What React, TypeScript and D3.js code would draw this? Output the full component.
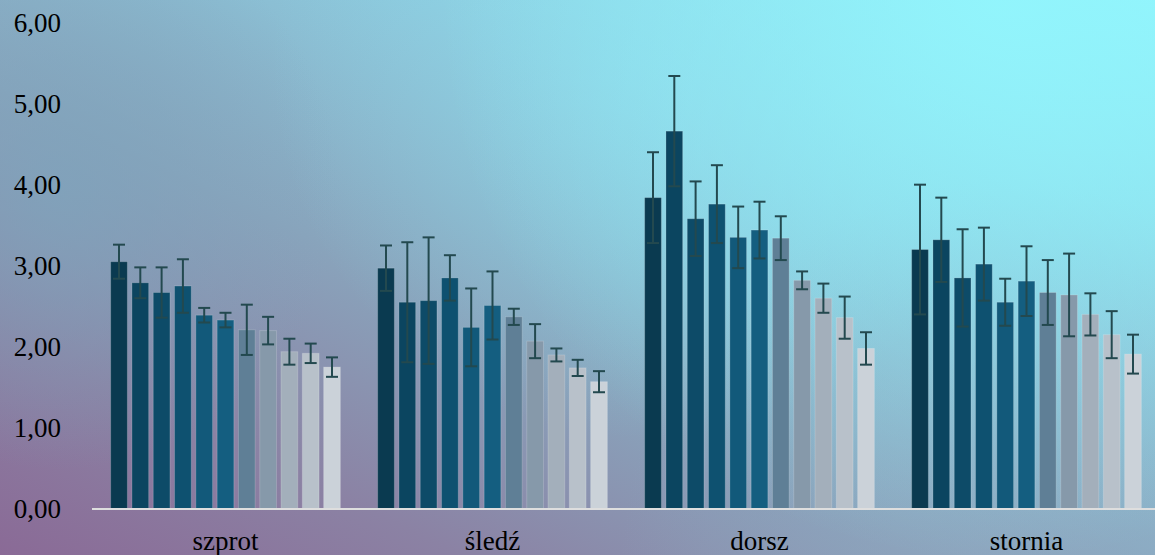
import React from "react";
import * as d3 from "d3";

const categories = ["szprot", "śledź", "dorsz", "stornia"];
const seriesColors = [
  "#0a3a50", "#0b4560", "#0d4b68", "#0e5170", "#12597a", "#145e80",
  "#5f7f96", "#8699aa", "#a3afbb", "#b8c1ca", "#cbd2d9",
];
const szprotValues = [3.05, 2.79, 2.67, 2.75, 2.39, 2.33, 2.21, 2.20, 1.94, 1.92, 1.75];
const szprotErrors = [0.21, 0.19, 0.31, 0.33, 0.09, 0.09, 0.31, 0.17, 0.16, 0.12, 0.12];
const sledzValues = [2.97, 2.55, 2.57, 2.85, 2.24, 2.51, 2.37, 2.07, 1.90, 1.74, 1.57];
const sledzErrors = [0.28, 0.74, 0.78, 0.28, 0.48, 0.42, 0.10, 0.21, 0.08, 0.10, 0.13];
const dorszValues = [3.84, 4.66, 3.58, 3.76, 3.35, 3.44, 3.34, 2.82, 2.60, 2.36, 1.98];
const dorszErrors = [0.56, 0.68, 0.46, 0.48, 0.38, 0.35, 0.27, 0.11, 0.18, 0.26, 0.20];
const storniaValues = [3.20, 3.32, 2.85, 3.02, 2.55, 2.81, 2.67, 2.64, 2.40, 2.15, 1.91];
const storniaErrors = [0.80, 0.52, 0.60, 0.45, 0.29, 0.43, 0.40, 0.51, 0.26, 0.29, 0.24];
const yTicks = [0, 1, 2, 3, 4, 5, 6];

const groupValues = [szprotValues, sledzValues, dorszValues, storniaValues];
const groupErrors = [szprotErrors, sledzErrors, dorszErrors, storniaErrors];

const W = 1155;
const H = 555;
const FONT = "'Liberation Serif', 'Times New Roman', serif";

export default function App() {
  const y = d3.scaleLinear().domain([0, 6]).range([509, 22.5]);
  const x0 = d3.scaleBand<string>().domain(categories).range([92, 1160]).padding(0);
  const seriesIdx = seriesColors.map((_, i) => String(i));
  const x1 = d3
    .scaleBand<string>()
    .domain(seriesIdx)
    .range([0, x0.bandwidth()])
    .paddingInner(0.216)
    .paddingOuter(0.876);
  const fmt = (v: number) => d3.format(".2f")(v).replace(".", ",");
  const capHalf = 6;

  return (
    <svg width={W} height={H} style={{ position: "absolute", left: 0, top: 0, display: "block" }}>
      <defs>
        <linearGradient id="bgLin" x1="0" y1="1" x2="1" y2="0">
          <stop offset="0" stopColor="#8a6a96" />
          <stop offset="0.2" stopColor="#8b82a4" />
          <stop offset="0.42" stopColor="#89a4bc" />
          <stop offset="0.68" stopColor="#8cc8dc" />
          <stop offset="1" stopColor="#90f2fb" />
        </linearGradient>
        <radialGradient id="glowTR" cx="1000" cy="0" r="560" gradientUnits="userSpaceOnUse">
          <stop offset="0" stopColor="#92f6fd" stopOpacity="0.9" />
          <stop offset="1" stopColor="#92f6fd" stopOpacity="0" />
        </radialGradient>
        <radialGradient id="glowTM" cx="650" cy="60" r="380" gradientUnits="userSpaceOnUse">
          <stop offset="0" stopColor="#8fdcec" stopOpacity="0.6" />
          <stop offset="1" stopColor="#8fdcec" stopOpacity="0" />
        </radialGradient>
        <radialGradient id="blueL" cx="60" cy="190" r="280" gradientUnits="userSpaceOnUse">
          <stop offset="0" stopColor="#7ea4bc" stopOpacity="0.75" />
          <stop offset="1" stopColor="#7ea4bc" stopOpacity="0" />
        </radialGradient>
        <radialGradient id="greyBR" cx="1000" cy="560" r="380" gradientUnits="userSpaceOnUse">
          <stop offset="0" stopColor="#8fa6bf" stopOpacity="0.7" />
          <stop offset="1" stopColor="#8fa6bf" stopOpacity="0" />
        </radialGradient>
      </defs>
      <rect x={0} y={0} width={W} height={H} fill="url(#bgLin)" />
      <rect x={0} y={0} width={W} height={H} fill="url(#blueL)" />
      <rect x={0} y={0} width={W} height={H} fill="url(#greyBR)" />
      <rect x={0} y={0} width={W} height={H} fill="url(#glowTM)" />
      <rect x={0} y={0} width={W} height={H} fill="url(#glowTR)" />

      {yTicks.map((t) => (
        <text
          key={t}
          x={61}
          y={y(t)}
          textAnchor="end"
          dominantBaseline="central"
          fontFamily={FONT}
          fontSize={27}
          fill="#000"
        >
          {fmt(t)}
        </text>
      ))}

      {categories.map((c, gi) => (
        <g key={c} transform={`translate(${x0(c)},0)`}>
          {groupValues[gi].map((v, si) => (
            <rect
              key={si}
              x={x1(String(si))}
              y={y(v)}
              width={x1.bandwidth()}
              height={y(0) - y(v)}
              fill={seriesColors[si]}
              stroke="rgba(255,255,255,0.18)"
              strokeWidth={1}
            />
          ))}
          {groupValues[gi].map((v, si) => {
            const cx = (x1(String(si)) as number) + x1.bandwidth() / 2;
            const e = groupErrors[gi][si];
            const top = y(v + e);
            const bot = y(v - e);
            return (
              <g key={"e" + si} stroke="#23494f" strokeWidth={2}>
                <line x1={cx} x2={cx} y1={top} y2={bot} />
                <line x1={cx - capHalf} x2={cx + capHalf} y1={top} y2={top} />
                <line x1={cx - capHalf} x2={cx + capHalf} y1={bot} y2={bot} />
              </g>
            );
          })}
          <text
            x={x0.bandwidth() / 2}
            y={550}
            textAnchor="middle"
            fontFamily={FONT}
            fontSize={27}
            fill="#000"
          >
            {c}
          </text>
        </g>
      ))}

      <line x1={92} x2={W} y1={y(0)} y2={y(0)} stroke="#dedede" strokeWidth={2} />
    </svg>
  );
}
